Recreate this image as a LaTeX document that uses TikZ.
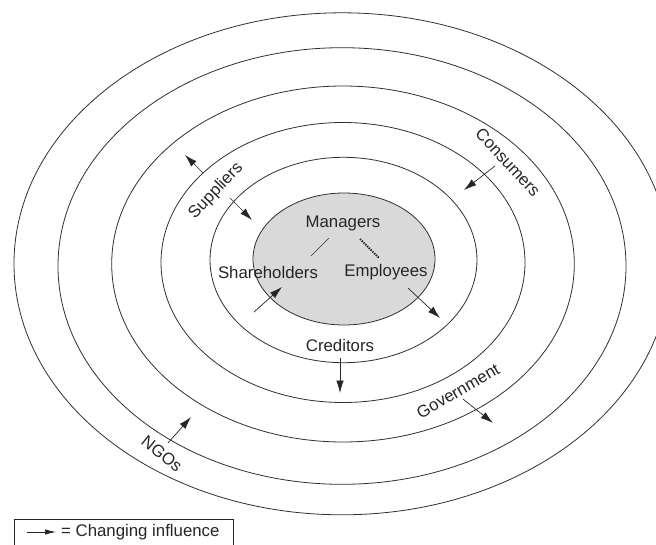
\documentclass[tikz,border=0pt]{standalone}
\usepackage{fontspec}
\setmainfont{Liberation Sans}
\usetikzlibrary{arrows.meta}
\definecolor{ringcol}{HTML}{303030}
\definecolor{grayfill}{HTML}{D9D9D9}
\tikzset{
  ring/.style={draw=ringcol, line width=0.8pt},
  lbl/.style={inner sep=0pt, font=\fontsize{16.8}{19}\selectfont, text=black!85},
  infl/.style={draw=black!85, line width=0.7pt, -{Latex[length=12.5pt,width=7.5pt]}},
  plain/.style={draw=black!80, line width=0.6pt},
  chain/.style={draw=black!85, line width=2pt, dash pattern=on 1.4pt off 1.1pt},
}
\begin{document}
\begin{tikzpicture}[x=1pt,y=-1pt]
\useasboundingbox (0,0) rectangle (656,544);
\fill[white] (0,0) rectangle (656,544);
% rings
\draw[ring] (342,263.8) ellipse [x radius=328pt, y radius=251pt];
\draw[ring] (342,266) ellipse [x radius=284pt, y radius=218.3pt];
\draw[ring] (343,264) ellipse [x radius=231.3pt, y radius=178pt];
\draw[ring] (343,262.5) ellipse [x radius=182pt, y radius=140pt];
\draw[ring] (343.5,260) ellipse [x radius=133.5pt, y radius=102.7pt];
\draw[ring, fill=grayfill] (344,259) ellipse [x radius=91pt, y radius=66pt];
% labels
\node[lbl] (managers) at (343,223) {Managers};
\node[lbl] (share) at (268,272) {Shareholders};
\node[lbl] (empl) at (386,272) {Employees};
\node[lbl] (cred) at (340,345) {Creditors};
\node[lbl, rotate=46] (supp) at (216,191) {Suppliers};
\node[lbl, rotate=-47] (cons) at (508,162) {Consumers};
\node[lbl, rotate=30] (gov) at (458,391) {Government};
\node[lbl, rotate=-39] (ngo) at (162,454) {NGOs};
% inner links
\coordinate (m1) at (329,238); \coordinate (s1) at (311,256);
\draw[plain] (m1) -- (s1);
\coordinate (m2) at (360,239); \coordinate (e2) at (379,258);
\draw[chain] (m2) -- (e2);
% influence arrows
\coordinate (sa0) at (203,173); \coordinate (sa1) at (185,155);
\draw[infl] (sa0) -- (sa1);
\coordinate (sb0) at (230,198); \coordinate (sb1) at (252,220);
\draw[infl] (sb0) -- (sb1);
\coordinate (ca0) at (495,166); \coordinate (ca1) at (464,190);
\draw[infl] (ca0) -- (ca1);
\coordinate (sh0) at (254,312); \coordinate (sh1) at (282,287);
\draw[infl] (sh0) -- (sh1);
\coordinate (em0) at (408,288); \coordinate (em1) at (440,318);
\draw[infl] (em0) -- (em1);
\coordinate (cr0) at (340,358); \coordinate (cr1) at (340,393);
\draw[infl] (cr0) -- (cr1);
\coordinate (go0) at (463,399); \coordinate (go1) at (493,423);
\draw[infl] (go0) -- (go1);
\coordinate (ng0) at (168,443); \coordinate (ng1) at (191,417);
\draw[infl] (ng0) -- (ng1);
% legend
\draw[draw=black!85, line width=0.8pt] (14,519) rectangle (233,552);
\coordinate (la0) at (27,532); \coordinate (la1) at (56,532);
\draw[draw=black!85, line width=0.7pt, -{Latex[length=11pt,width=5.5pt]}] (la0) -- (la1);
\node[lbl, anchor=west] (legtext) at (61,532) {= Changing influence};
\end{tikzpicture}
\end{document}
